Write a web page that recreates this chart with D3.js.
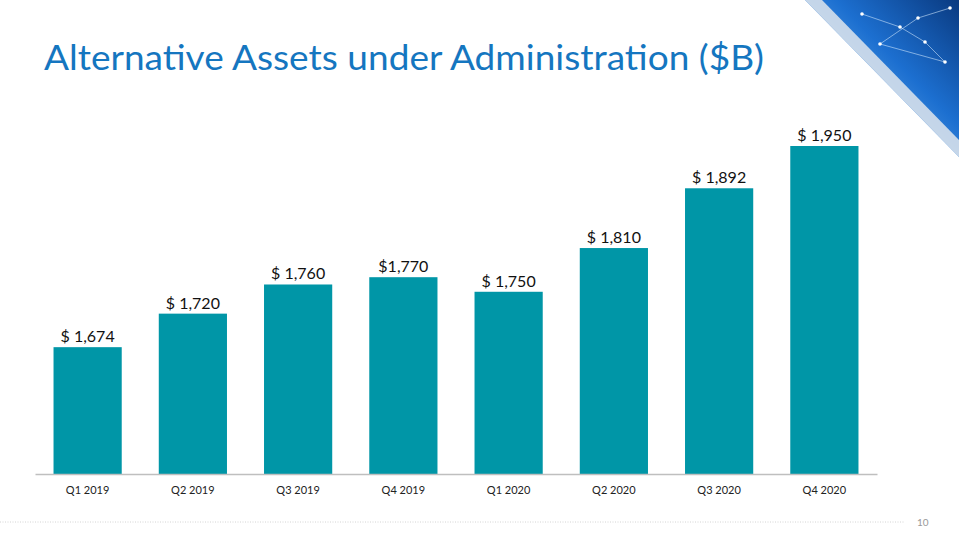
<!DOCTYPE html>
<html>
<head>
<meta charset="utf-8">
<script src="https://cdn.jsdelivr.net/npm/d3@7"></script>
<style>
  body { margin: 0; background: #fff; }
  svg { display: block; }
</style>
</head>
<body>
<script>
// chart data
var quarters = ["Q1 2019", "Q2 2019", "Q3 2019", "Q4 2019", "Q1 2020", "Q2 2020", "Q3 2020", "Q4 2020"];
var assets = [1674, 1720, 1760, 1770, 1750, 1810, 1892, 1950];
var valueLabels = ["$ 1,674", "$ 1,720", "$ 1,760", "$1,770", "$ 1,750", "$ 1,810", "$ 1,892", "$ 1,950"];

var W = 959, H = 540;
var margin = {top: 146, right: 82, bottom: 66, left: 35};
var width = W - margin.left - margin.right;
var height = H - margin.top - margin.bottom;

var svg = d3.select("body").append("svg")
    .attr("width", W)
    .attr("height", H);

// decorative corner (top right)
var defs = svg.append("defs");
var grad = defs.append("linearGradient")
    .attr("id", "corner")
    .attr("x1", "0%").attr("y1", "100%")
    .attr("x2", "100%").attr("y2", "0%");
grad.append("stop").attr("offset", "0%").attr("stop-color", "#c9d9ea");
grad.append("stop").attr("offset", "30%").attr("stop-color", "#5aa2e6");
grad.append("stop").attr("offset", "60%").attr("stop-color", "#1c6fd0");
grad.append("stop").attr("offset", "100%").attr("stop-color", "#0a3a80");

svg.append("polygon")
    .attr("points", "805,0 959,0 959,157")
    .attr("fill", "url(#corner)");
svg.append("polygon")
    .attr("points", "805,0 822,0 959,140 959,157")
    .attr("fill", "#dfe5ec")
    .attr("opacity", 0.85);

var net = [[862, 14], [900, 27], [925, 42], [945, 62], [880, 44], [918, 18], [950, 8]];
svg.append("path")
    .attr("d", "M" + net.map(function(p) { return p.join(","); }).join("L"))
    .attr("fill", "none")
    .attr("stroke", "#d6ecff")
    .attr("stroke-width", 0.8)
    .attr("opacity", 0.7);
svg.selectAll(".node").data(net).enter()
    .append("circle")
    .attr("class", "node")
    .attr("cx", function(d) { return d[0]; })
    .attr("cy", function(d) { return d[1]; })
    .attr("r", 1.8)
    .attr("fill", "#ffffff");

// title
svg.append("text")
    .attr("x", 44)
    .attr("y", 70)
    .attr("textLength", 720)
    .attr("lengthAdjust", "spacingAndGlyphs")
    .style("font-family", "Lato, 'Open Sans', sans-serif")
    .style("font-size", "35px")
    .style("fill", "#1576c0")
    .text("Alternative Assets under Administration ($B)");

var g = svg.append("g")
    .attr("transform", "translate(" + margin.left + "," + margin.top + ")");

var x = d3.scaleBand()
    .domain(quarters)
    .range([0, width])
    .paddingInner(0.352)
    .paddingOuter(0.176);

var y = d3.scaleLinear()
    .domain([1500, 1950])
    .range([height, 0]);

g.selectAll(".bar").data(assets)
    .enter()
    .append("rect")
    .attr("class", "bar")
    .attr("x", function(d, i) { return x(quarters[i]); })
    .attr("y", function(d) { return y(d); })
    .attr("width", x.bandwidth())
    .attr("height", function(d) { return height - y(d); })
    .attr("fill", "#0096a7");

g.selectAll(".label").data(assets)
    .enter()
    .append("text")
    .attr("class", "label")
    .attr("x", function(d, i) { return x(quarters[i]) + x.bandwidth() / 2; })
    .attr("y", function(d) { return y(d) - 5; })
    .attr("text-anchor", "middle")
    .style("font-family", "Lato, 'Open Sans', sans-serif")
    .style("font-size", "16px")
    .style("fill", "#111")
    .text(function(d, i) { return valueLabels[i]; });

var xAxis = g.append("g")
    .attr("transform", "translate(0," + height + ")")
    .call(d3.axisBottom(x).tickSize(0).tickPadding(12));
xAxis.select(".domain").attr("stroke", "#bfbfbf").attr("stroke-width", 1.5);
xAxis.selectAll("text")
    .style("font-family", "Lato, 'Open Sans', sans-serif")
    .style("font-size", "11px")
    .style("fill", "#222");

// footer
svg.append("line")
    .attr("x1", 0).attr("x2", 905)
    .attr("y1", 522).attr("y2", 522)
    .attr("stroke", "#d4d4d4")
    .attr("stroke-width", 1)
    .attr("stroke-dasharray", "1,1.5");
svg.append("text")
    .attr("x", 917)
    .attr("y", 526)
    .style("font-family", "Lato, 'Open Sans', sans-serif")
    .style("font-size", "10px")
    .style("fill", "#999")
    .text("10");
</script>
</body>
</html>
